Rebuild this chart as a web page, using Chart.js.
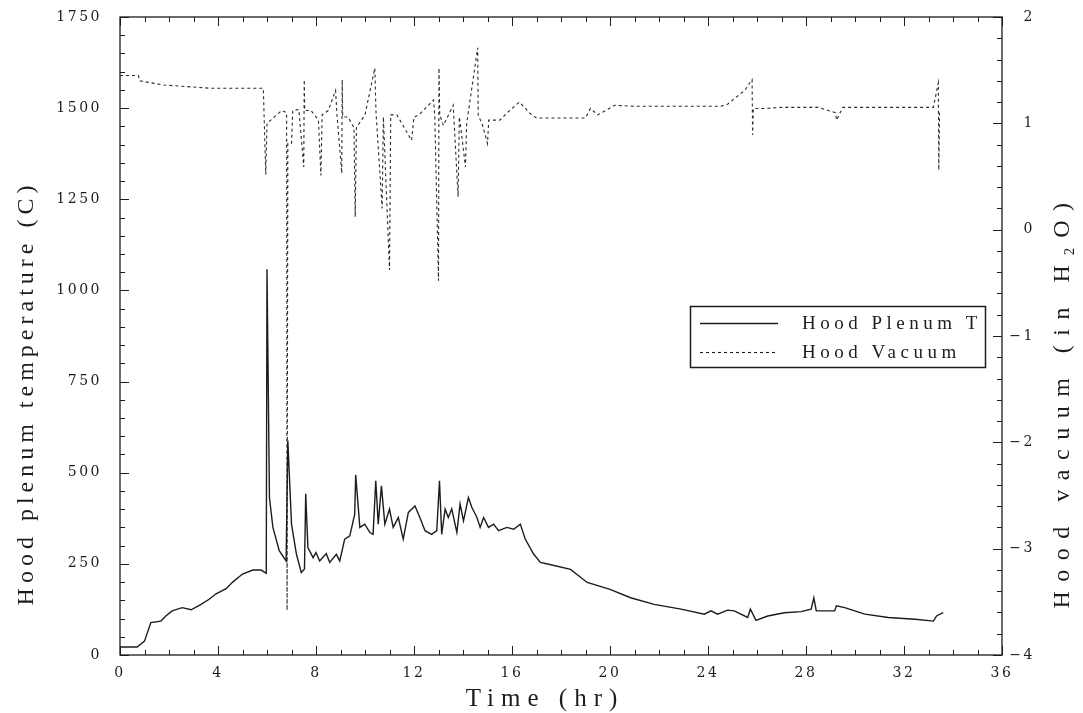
<!DOCTYPE html>
<html>
<head>
<meta charset="utf-8">
<title>Hood plenum temperature and hood vacuum</title>
<script src="https://cdn.jsdelivr.net/npm/chart.js@4.4.1/dist/chart.umd.min.js"></script>
<style>
  html, body { margin: 0; padding: 0; background: #fff; }
  #wrap { width: 1083px; height: 713px; position: relative; }
</style>
</head>
<body>
<div id="wrap"><canvas id="chart"></canvas></div>
<script>
// Hood plenum temperature (C)
const tempTime = [0, 0.7, 1.0, 1.26, 1.67, 1.87, 2.13, 2.54, 2.9, 3.24, 3.64, 3.92, 4.33, 4.6, 5.0, 5.42, 5.76, 5.97,
  6.0, 6.1, 6.24, 6.5, 6.78, 6.85, 7.0, 7.2, 7.4, 7.53, 7.58, 7.67, 7.88, 8.0, 8.15, 8.42, 8.56, 8.83, 8.97,
  9.17, 9.38, 9.58, 9.62, 9.79, 9.99, 10.2, 10.33, 10.44, 10.54, 10.67, 10.81, 11.0, 11.15, 11.36, 11.56, 11.77,
  12.04, 12.24, 12.45, 12.72, 12.93, 13.04, 13.13, 13.27, 13.4, 13.54, 13.75, 13.88, 14.02, 14.22, 14.36, 14.57,
  14.7, 14.84, 15.04, 15.25, 15.45, 15.79, 16.07, 16.34, 16.54, 16.88, 17.16, 17.5, 18.39, 19.07, 20.0, 20.84,
  21.8, 22.9, 23.85, 24.12, 24.39, 24.8, 25.07, 25.62, 25.73, 25.96, 26.44, 27.12, 27.8, 28.21, 28.32, 28.42,
  29.17, 29.24, 29.58, 30.4, 31.36, 32.45, 33.2, 33.33, 33.6];
const tempValue = [22, 22, 38, 89, 93, 107, 121, 130, 124, 136, 153, 168, 182, 200, 222, 233, 233, 224,
  1058, 432, 350, 286, 258, 588, 359, 277, 226, 236, 442, 295, 267, 281, 258, 278, 254, 276, 258,
  318, 327, 386, 494, 350, 359, 336, 331, 478, 359, 464, 359, 400, 350, 377, 318, 391,
  409, 377, 341, 331, 341, 478, 331, 400, 377, 401, 336, 414, 368, 432, 405, 377,
  350, 377, 350, 359, 341, 350, 345, 359, 318, 277, 254, 249, 235, 199, 180, 157,
  139, 126, 112, 121, 112, 123, 121, 103, 126, 95, 107, 116, 119, 126, 157, 121,
  121, 135, 130, 112, 103, 98, 93, 107, 116];

// Hood vacuum (in H2O)
const vacTime = [0, 0.75, 0.8, 1.8, 3.7, 5.85, 5.95, 6.0, 6.3, 6.6, 6.8, 6.82, 6.85, 7.0, 7.05, 7.3,
  7.5, 7.52, 7.54, 7.8, 8.1, 8.2, 8.25, 8.5, 8.8, 8.85, 9.05, 9.07, 9.09, 9.3, 9.55, 9.6, 9.65, 10.0,
  10.4, 10.45, 10.7, 10.75, 11.0, 11.05, 11.3, 11.6, 11.9, 12.0, 12.2, 12.8, 12.85, 13.0, 13.02, 13.05,
  13.2, 13.6, 13.8, 13.85, 13.9, 14.1, 14.15, 14.6, 14.62, 14.8, 15.0, 15.05, 15.5, 15.9, 16.3, 16.8,
  17.0, 19.0, 19.2, 19.5, 20.2, 21.0, 24.5, 24.8, 25.5, 25.8, 25.82, 25.85, 26.3, 27.0, 28.5, 29.2,
  29.25, 29.5, 33.2, 33.4, 33.42, 33.45];
const vacValue = [1.45, 1.45, 1.40, 1.36, 1.33, 1.33, 0.52, 1.00, 1.06, 1.12, 1.10, -3.58, 0.81, 0.81, 1.12, 1.13,
  0.59, 1.41, 1.12, 1.12, 1.03, 0.51, 1.08, 1.12, 1.31, 1.10, 0.53, 1.41, 1.06, 1.06, 0.96, 0.12, 0.96, 1.08,
  1.52, 1.10, 0.20, 1.06, -0.38, 1.08, 1.08, 0.96, 0.84, 1.06, 1.08, 1.22, 1.06, -0.48, 1.52, 1.08,
  0.98, 1.17, 0.31, 1.06, 0.98, 0.59, 1.00, 1.71, 1.08, 0.98, 0.81, 1.03, 1.03, 1.12, 1.20, 1.08,
  1.05, 1.05, 1.14, 1.08, 1.17, 1.16, 1.16, 1.18, 1.31, 1.41, 0.89, 1.14, 1.14, 1.15, 1.15, 1.10,
  1.03, 1.15, 1.15, 1.38, 0.56, 1.10];

// tick labels
const timeTicks = [0, 4, 8, 12, 16, 20, 24, 28, 32, 36];
const tempTicks = [0, 250, 500, 750, 1000, 1250, 1500, 1750];
const vacTicks = [-4, -3, -2, -1, 0, 1, 2];

const INK = '#1c1c1c';
const tickFont = { family: '"DejaVu Serif", serif', size: 14 };

// inward tick marks on all four sides plus the frame
const frameTicks = {
  id: 'frameTicks',
  afterDatasetsDraw(chart) {
    const { ctx, chartArea: a, scales } = chart;
    ctx.save();
    ctx.strokeStyle = INK;
    ctx.lineWidth = 1.3;
    ctx.strokeRect(a.left, a.top, a.right - a.left, a.bottom - a.top);
    ctx.lineWidth = 1;
    ctx.beginPath();
    for (let t = 0; t <= 36; t++) {
      const px = Math.round(scales.x.getPixelForValue(t)) + 0.5;
      const len = t % 4 === 0 ? 9 : 5;
      ctx.moveTo(px, a.bottom); ctx.lineTo(px, a.bottom - len);
      ctx.moveTo(px, a.top); ctx.lineTo(px, a.top + len);
    }
    for (let v = 0; v <= 1750; v += 50) {
      const py = Math.round(scales.y.getPixelForValue(v)) + 0.5;
      const len = v % 250 === 0 ? 9 : 5;
      ctx.moveTo(a.left, py); ctx.lineTo(a.left + len, py);
    }
    for (let i = -20; i <= 10; i++) {
      const py = Math.round(scales.y1.getPixelForValue(i / 5)) + 0.5;
      const len = i % 5 === 0 ? 9 : 5;
      ctx.moveTo(a.right, py); ctx.lineTo(a.right - len, py);
    }
    ctx.stroke();
    ctx.restore();
  }
};

// axis titles and the boxed legend
const annotations = {
  id: 'annotations',
  afterDraw(chart) {
    const { ctx } = chart;
    const title = (text, x, y, rot, size, gap) => {
      ctx.save();
      ctx.fillStyle = INK;
      ctx.textAlign = 'center';
      ctx.textBaseline = 'middle';
      ctx.font = size + 'px "Liberation Serif", serif';
      ctx.letterSpacing = gap + 'px';
      ctx.translate(x, y);
      ctx.rotate(rot);
      ctx.fillText(text, 0, 0);
      ctx.restore();
    };
    title('Hood plenum temperature (C)', 27, 393, -Math.PI / 2, 24, 5);
    title('Hood vacuum (in H\u2082O)', 1063, 401, -Math.PI / 2, 24, 9.5);
    title('Time (hr)', 545, 699, 0, 25, 7);

    // legend
    ctx.save();
    ctx.strokeStyle = INK;
    ctx.lineWidth = 1.5;
    ctx.strokeRect(690.5, 306.5, 295, 61);
    ctx.font = '19px "Liberation Serif", serif';
    ctx.letterSpacing = '4.5px';
    ctx.fillStyle = INK;
    ctx.textBaseline = 'middle';
    chart.data.datasets.forEach((ds, i) => {
      const y = 323 + i * 29;
      ctx.beginPath();
      ctx.lineWidth = ds.borderWidth;
      ctx.setLineDash(ds.borderDash || []);
      ctx.moveTo(700, y + 0.5);
      ctx.lineTo(778, y + 0.5);
      ctx.stroke();
      ctx.setLineDash([]);
      ctx.fillText(ds.label, 802, y + 1);
    });
    ctx.restore();
  }
};

const spacing = {
  id: 'spacing',
  beforeLayout(chart) { chart.ctx.letterSpacing = '2.5px'; },
  beforeDraw(chart) { chart.ctx.letterSpacing = '2.5px'; }
};

const noPad = s => { s.paddingTop = 0; s.paddingBottom = 0; };

const ctx = document.getElementById('chart').getContext('2d');
new Chart(ctx, {
  type: 'line',
  data: {
    datasets: [{
      label: 'Hood Plenum T',
      data: tempTime.map((t, i) => ({ x: t, y: tempValue[i] })),
      borderColor: INK,
      borderWidth: 1.4,
      pointRadius: 0,
      tension: 0,
      yAxisID: 'y'
    }, {
      label: 'Hood Vacuum',
      data: vacTime.map((t, i) => ({ x: t, y: vacValue[i] })),
      borderColor: '#2a2a2a',
      borderWidth: 1.1,
      borderDash: [3, 3],
      pointRadius: 0,
      tension: 0,
      yAxisID: 'y1'
    }]
  },
  options: {
    responsive: true,
    maintainAspectRatio: false,
    animation: false,
    layout: { autoPadding: false, padding: { top: 17, right: 48, bottom: 0, left: 0 } },
    plugins: {
      legend: { display: false },
      tooltip: { enabled: false }
    },
    scales: {
      x: {
        type: 'linear',
        min: 0,
        max: 36,
        grid: { display: false, drawTicks: false },
        border: { display: false },
        afterBuildTicks: s => { s.ticks = timeTicks.map(v => ({ value: v })); },
        afterFit: s => { s.height = 58; },
        ticks: { color: INK, font: tickFont, padding: 10, maxRotation: 0, callback: v => String(v) },
        title: { display: false, text: 'Time (hr)' }
      },
      y: {
        position: 'left',
        min: 0,
        max: 1750,
        grid: { display: false, drawTicks: false },
        border: { display: false },
        afterBuildTicks: s => { s.ticks = tempTicks.map(v => ({ value: v })); },
        afterFit: s => { s.width = 120; noPad(s); },
        ticks: { color: INK, font: tickFont, padding: 18, callback: v => String(v) }
      },
      y1: {
        position: 'right',
        min: -4,
        max: 2,
        grid: { display: false, drawTicks: false },
        border: { display: false },
        afterBuildTicks: s => { s.ticks = vacTicks.map(v => ({ value: v })); },
        afterFit: s => { s.width = 33; noPad(s); },
        ticks: {
          color: INK,
          font: tickFont,
          padding: 10,
          crossAlign: 'far',
          callback: v => String(v).replace('-', '\u2212')
        }
      }
    }
  },
  plugins: [spacing, frameTicks, annotations]
});
</script>
</body>
</html>
